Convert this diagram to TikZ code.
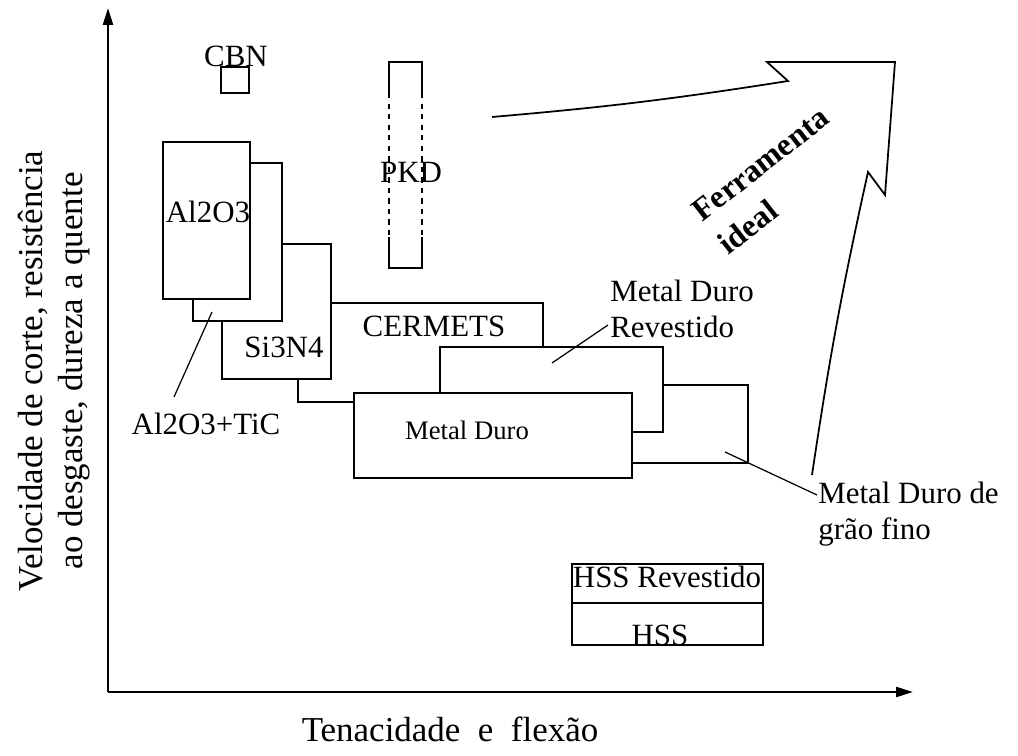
\documentclass[tikz,border=0pt]{standalone}
\usepackage{fontspec}
\setmainfont{Liberation Serif}
\usetikzlibrary{arrows.meta}

\begin{document}
\begin{tikzpicture}[x=0.02cm, y=-0.02cm,
  axis/.style={line width=1.4pt, -{Triangle[length=0.34cm, width=0.2cm]}},
  mat/.style={draw, fill=white, line width=0.9pt},
  lead/.style={line width=0.7pt},
  lbl/.style={inner sep=0pt, anchor=base, font=\fontsize{17.6}{20.5}\selectfont},
  sidelbl/.style={lbl, anchor=base west, align=left},
  axlbl/.style={inner sep=0pt, anchor=base, align=center, font=\fontsize{19.9}{22.2}\selectfont}]
\useasboundingbox (0,0) rectangle (1018,756);

% === Axes ===
\coordinate (O) at (108,692);
\coordinate (ytop) at (108,8);
\coordinate (xend) at (913,692);
\draw[axis] (O) -- (ytop);
\draw[axis] (O) -- (xend);
\node[axlbl] (xlbl) at (450,742) {Tenacidade~~e~~flexão};
\node[axlbl, rotate=90] (ylbl) at (82,371) {Velocidade de corte, resistência\\ao desgaste, dureza a quente};

% === Material boxes (back to front) ===
\draw[mat] (560,385) rectangle (748,463); % grao fino
\draw[mat] (298,303) rectangle (543,402); % cermets
\draw[mat] (222,244) rectangle (331,379); % si3n4
\draw[mat] (193,163) rectangle (282,321); % al2o3+tic
\draw[mat] (163,142) rectangle (250,299); % al2o3
\draw[mat] (440,347) rectangle (663,432); % revestido
\draw[mat] (354,393) rectangle (632,478); % metal duro

% CBN
\draw[mat] (221,67) rectangle (249,93);

% PKD, dashed in the middle
\draw[line width=0.9pt] (389,93) -- (389,62) -- (422,62) -- (422,93);
\draw[line width=0.9pt] (389,237) -- (389,268) -- (422,268) -- (422,237);
\draw[line width=0.9pt, dashed] (389,93) -- (389,237);
\draw[line width=0.9pt, dashed] (422,93) -- (422,237);

% HSS
\draw[mat] (572,564) rectangle (763,603);
\draw[mat] (572,603) rectangle (763,645);

% === Labels ===
\node[lbl] (cbn) at (236,67) {CBN};
\node[lbl] (al2o3) at (208,223) {Al2O3};
\node[lbl] (pkd) at (411,183) {PKD};
\node[lbl] (si3n4) at (284,358) {Si3N4};
\node[lbl] (cermets) at (434,337) {CERMETS};
\node[lbl, font=\fontsize{15.2}{18}\selectfont] (md) at (467,440) {Metal Duro};
\node[lbl] (tic) at (206,435) {Al2O3+TiC};
\node[sidelbl] (mdrev) at (610,338) {Metal Duro\\Revestido};
\node[sidelbl] (mdfino) at (818,540) {Metal Duro de\\grão fino};
\node[lbl] (hssrev) at (667,588) {HSS Revestido};
\node[lbl] (hss) at (660,645) {HSS};

% leaders
\coordinate (ticA) at (174,397);
\coordinate (ticB) at (212,312);
\draw[lead] (ticA) -- (ticB);
\coordinate (revA) at (608,325);
\coordinate (revB) at (552,363);
\draw[lead] (revA) -- (revB);
\coordinate (finoA) at (817,495);
\coordinate (finoB) at (725,452);
\draw[lead] (finoA) -- (finoB);

% === Ferramenta ideal arrow ===
\draw[line width=1pt, line join=miter] (492,117) to[bend right=2] (788,81) -- (767,62) -- (895,62)
  -- (885,195) -- (868,172) to[bend right=2] (812,475);
\node[inner sep=0pt, anchor=base west, align=left, rotate=38,
  font=\fontsize{18.2}{23.9}\selectfont\bfseries] (ideal) at (728,256) {Ferramenta\\ideal};

\end{tikzpicture}
\end{document}
